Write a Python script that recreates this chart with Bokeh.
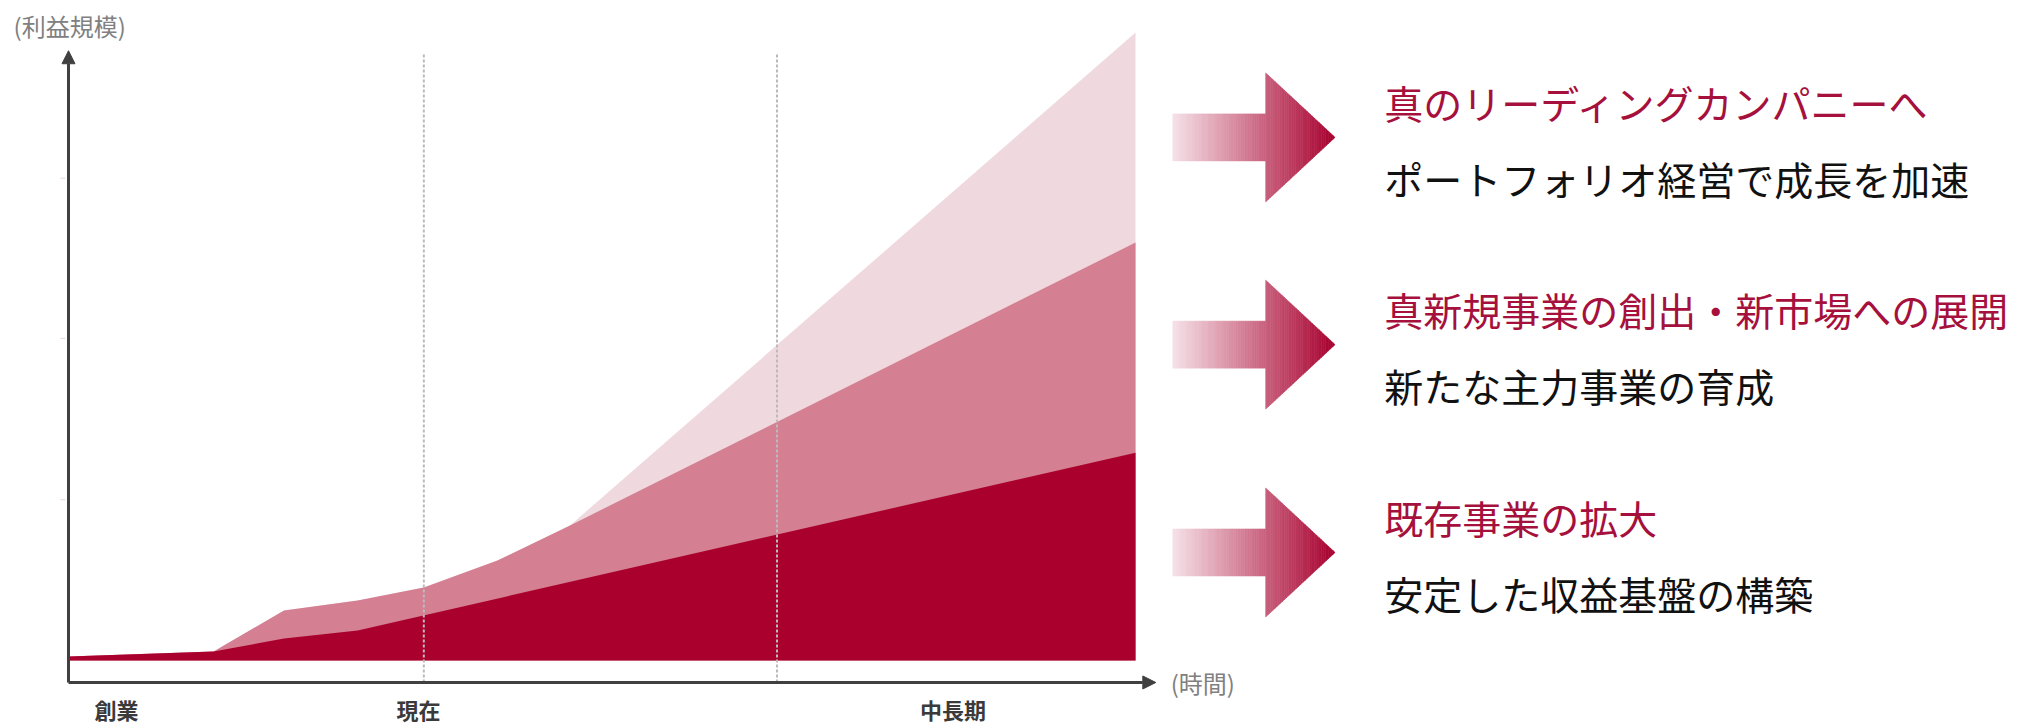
import numpy as np
from bokeh.plotting import figure
from bokeh.models import Range1d, Arrow, NormalHead
from bokeh.core.properties import value
from bokeh.embed import file_html
from bokeh.resources import INLINE

# ---------------- data (time: 0..100, profit scale: 0..100) ----------------
t_red = [0, 13.6, 20.2, 27.1, 100]
v_red = [0.64, 1.43, 3.5, 4.78, 33.1]

t_mid = [0, 13.6, 20.2, 27.1, 33.3, 40.2, 47.0, 100]
v_mid = [0.64, 1.43, 7.96, 9.55, 11.62, 15.92, 21.5, 66.56]

t_top = [0, 13.6, 20.2, 27.1, 33.3, 40.2, 47.0, 100]
v_top = [0.64, 1.43, 7.96, 9.55, 11.62, 15.92, 21.5, 100]

stage_labels = ["創業", "現在", "中長期"]
stage_pos = [4.5, 32.8, 82.9]
marker_pos = [33.3, 66.4]
ytick_vals = [25.6, 51.3, 76.8]

headlines = ["真のリーディングカンパニーへ", "真新規事業の創出・新市場への展開", "既存事業の拡大"]
sublines = ["ポートフォリオ経営で成長を加速", "新たな主力事業の育成", "安定した収益基盤の構築"]

# ---------------- styles ----------------
C_TOP = "#F0D9DE"
C_MID = "#D47F92"
C_RED = "#AA002D"
C_HEAD = "#A6103C"
AXIS_C = "#404040"
FONT = value("Noto Sans CJK JP")

p = figure(width=2023, height=727,
           x_range=Range1d(-6.373, 183.22), y_range=Range1d(-10.67, 105.1),
           output_backend="svg", toolbar_location=None,
           x_axis_location=None, y_axis_location=None,
           min_border=0, outline_line_color=None)
p.grid.visible = False
p.background_fill_color = "white"
p.border_fill_color = "white"

# stacked areas (back to front)
p.varea(x=t_top, y1=[0] * len(t_top), y2=v_top, fill_color=C_TOP)
p.varea(x=t_mid, y1=[0] * len(t_mid), y2=v_mid, fill_color=C_MID)
p.varea(x=t_red, y1=[0] * len(t_red), y2=v_red, fill_color=C_RED)

# dotted markers
axis_y = -3.5
p.segment(x0=marker_pos, x1=marker_pos, y0=[axis_y] * 2, y1=[96.8] * 2,
          line_color="#BBBBBB", line_width=2, line_dash="3 2")

# faint y ticks
p.segment(x0=[-0.75] * 3, x1=[-0.3] * 3, y0=ytick_vals, y1=ytick_vals,
          line_color="#EBD3D9", line_width=1)

# axes with arrow heads
p.add_layout(Arrow(end=NormalHead(size=13, fill_color=AXIS_C, line_color=AXIS_C),
                   x_start=0, y_start=axis_y, x_end=101.9, y_end=axis_y,
                   line_color=AXIS_C, line_width=3))
p.add_layout(Arrow(end=NormalHead(size=13, fill_color=AXIS_C, line_color=AXIS_C),
                   x_start=0, y_start=axis_y, x_end=0, y_end=97.1,
                   line_color=AXIS_C, line_width=3))

# axis titles
p.text(x=[-5.15], y=[101.1], text=["(利益規模)"], text_font=FONT,
       text_font_size=value("24px"), text_color="#808080",
       text_align="left", text_baseline="middle")
p.text(x=[103.3], y=[axis_y], text=["(時間)"], text_font=FONT,
       text_font_size=value("24px"), text_color="#808080",
       text_align="left", text_baseline="middle")

# stage labels
p.text(x=stage_pos, y=[-7.8] * 3, text=stage_labels, text_font=FONT,
       text_font_size=value("22px"), text_color="#3a3a3a", text_font_style="bold",
       text_align="center", text_baseline="middle")

# gradient arrows
arrow_centers = [83.3, 50.3, 17.2]
x0, xb, xt = 103.5, 112.2, 118.7
shaft_h, head_h = 3.74, 10.27
c0 = np.array([246, 226, 232])
c1 = np.array([168, 0, 46])
xs_all, ys_all, cols = [], [], []
n1, n2 = 40, 30
edges = list(np.linspace(x0, xb, n1 + 1)) + list(np.linspace(xb, xt, n2 + 1)[1:])
for yc in arrow_centers:
    for a, b in zip(edges[:-1], edges[1:]):
        frac = ((a + b) / 2 - x0) / (xt - x0)
        c = (c0 + (c1 - c0) * frac).astype(int)
        col = "#%02x%02x%02x" % tuple(c)
        if b <= xb + 1e-9:
            xs = [a, b, b, a]
            ys = [yc - shaft_h, yc - shaft_h, yc + shaft_h, yc + shaft_h]
        else:
            ha = head_h * (xt - a) / (xt - xb)
            hb = head_h * (xt - b) / (xt - xb)
            xs = [a, b, b, a]
            ys = [yc - ha, yc - hb, yc + hb, yc + ha]
        xs_all.append(xs)
        ys_all.append(ys)
        cols.append(col)
p.patches(xs=xs_all, ys=ys_all, fill_color=cols, line_color=cols, line_width=0.6)

# right-side texts
text_x = 123.3
p.text(x=[text_x] * 3, y=[c + 5.6 for c in arrow_centers], text=headlines,
       text_font=FONT, text_font_size=value("39px"), text_color=C_HEAD,
       text_align="left", text_baseline="middle")
p.text(x=[text_x] * 3, y=[c - 6.4 for c in arrow_centers], text=sublines,
       text_font=FONT, text_font_size=value("39px"), text_color="#111111",
       text_align="left", text_baseline="middle")

open("out.html", "w").write(file_html(p, INLINE))
